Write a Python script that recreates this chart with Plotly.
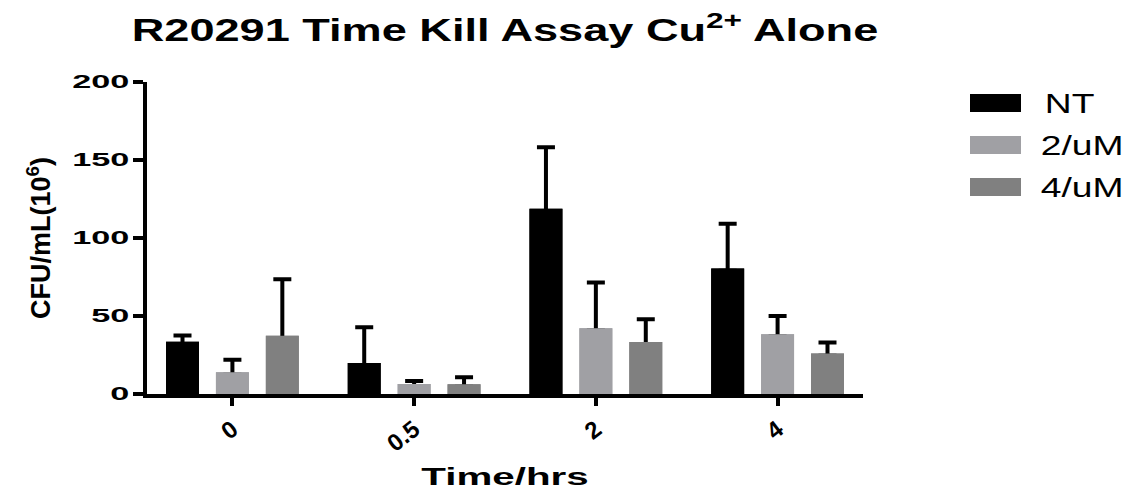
import plotly.graph_objects as go

# Sampling times (hours) and treatment groups
times = ["0", "0.5", "2", "4"]
series_names = ["NT", "2/uM", "4/uM"]

# Mean CFU/mL (x10^6) and upper SD for each group
nt_mean = [33.5, 19.8, 118.7, 80.5]
nt_err = [4.0, 23.0, 39.5, 28.6]
cu2_mean = [13.9, 6.4, 42.2, 38.3]
cu2_err = [8.0, 2.0, 29.2, 11.7]
cu4_mean = [37.3, 6.2, 33.4, 26.0]
cu4_err = [36.2, 4.5, 14.5, 7.0]

y_ticks = [0, 50, 100, 150, 200]

colors = ["#000000", "#A0A0A4", "#808080"]
FONT = "Liberation Sans, Arial, Helvetica, sans-serif"

W, H = 1138, 490
ML, MR, MT, MB = 147, 275, 82, 96

# error stems start just under the bar top so the lower crossbar is hidden
STEM_DIP = 1.5


def paper_x(px):
    return (px - ML) / (W - ML - MR)


def paper_y(py):
    return (H - MB - py) / (H - MT - MB)


means = [nt_mean, cu2_mean, cu4_mean]
errs = [nt_err, cu2_err, cu4_err]

fig = go.Figure()
# Bars carrying the upper SD whiskers
for i, (name, m, e, c) in enumerate(zip(series_names, means, errs, colors)):
    fig.add_trace(go.Bar(
        x=times, y=m, name=name, offsetgroup=str(i),
        marker=dict(color=c, line=dict(width=0)),
        error_y=dict(type="data", symmetric=False, array=e,
                     arrayminus=[STEM_DIP] * len(e), color="black",
                     thickness=4, width=9),
        showlegend=False, hoverinfo="skip",
    ))
# Same bars again on top, so only the part of each whisker above the bar shows
for i, (name, m, c) in enumerate(zip(series_names, means, colors)):
    fig.add_trace(go.Bar(
        x=times, y=m, name=name, offsetgroup=str(i),
        marker=dict(color=c, line=dict(width=0)),
        showlegend=False,
    ))

# Legend: wide swatches with labels to the right
legend_rows = [103, 145, 187]
shapes, annotations = [], []
for name, c, yc in zip(series_names, colors, legend_rows):
    shapes.append(dict(type="rect", xref="paper", yref="paper",
                       x0=paper_x(970), x1=paper_x(1021),
                       y0=paper_y(yc + 9), y1=paper_y(yc - 9),
                       fillcolor=c, line=dict(width=0)))
    annotations.append(dict(text=name, xref="paper", yref="paper",
                            x=paper_x(1049), y=paper_y(yc),
                            xanchor="left", yanchor="middle", showarrow=False,
                            font=dict(family=FONT, size=28, color="black")))

fig.update_layout(
    width=W, height=H,
    margin=dict(l=ML, r=MR, t=MT, b=MB, autoexpand=False),
    paper_bgcolor="white", plot_bgcolor="white",
    barmode="group", bargap=0.176, bargroupgap=0.34,
    title=dict(text="R20291 Time Kill Assay Cu<sup>2+</sup> Alone",
               font=dict(family=FONT, size=32, color="black", weight="bold"),
               x=505 / W, xref="container", xanchor="center",
               y=1 - 30 / H, yref="container", yanchor="middle"),
    xaxis=dict(type="category", range=[-0.47, 3.47],
               showline=True, linewidth=4, linecolor="black",
               ticks="outside", ticklen=8, tickwidth=4, tickcolor="black",
               tickangle=-38, showgrid=False, zeroline=False,
               tickfont=dict(family=FONT, size=24, color="black", weight="bold"),
               title=dict(text="Time/hrs", standoff=16,
                          font=dict(family=FONT, size=24, color="black", weight="bold")),
               automargin=False),
    yaxis=dict(range=[0, 200], tickvals=y_ticks,
               showline=True, linewidth=4, linecolor="black",
               ticks="outside", ticklen=10, tickwidth=4, tickcolor="black",
               showgrid=False, zeroline=False,
               tickfont=dict(family=FONT, size=18, color="black", weight="bold"),
               title=dict(text="CFU/mL(10<sup>6</sup>)", standoff=42,
                          font=dict(family=FONT, size=27, color="black", weight="bold")),
               automargin=False),
    shapes=shapes, annotations=annotations,
)

# Widen horizontal text to the chart's broad lettering
stretch_js = """
var gd = document.getElementById('{plot_id}');
function widen(sel, k) {
  gd.querySelectorAll(sel).forEach(function (t) {
    var w = t.getComputedTextLength();
    if (w > 0) {
      t.setAttribute('textLength', w * k);
      t.setAttribute('lengthAdjust', 'spacingAndGlyphs');
    }
  });
}
widen('.gtitle', 1.41);
widen('.xtitle', 1.68);
widen('.ytick text', 1.9);
widen('.annotation-text', 1.33);
"""

fig.write_html("out.html", post_script=stretch_js)
